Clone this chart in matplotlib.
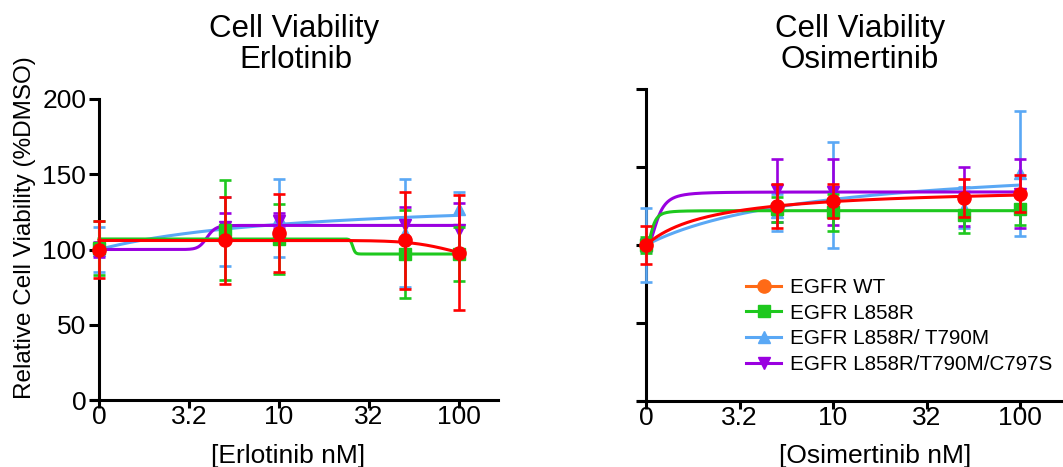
import numpy as np
import matplotlib
matplotlib.use("Agg")
import matplotlib.pyplot as plt
from matplotlib.lines import Line2D

plt.rcParams['font.family'] = ['Liberation Sans', 'DejaVu Sans']

# ---------------- data ----------------
conc_positions = [1, 5, 10, 50, 100]          # "0" plotted at position 1 on the log axis
tick_positions = [1, 10 ** 0.5, 10, 10 ** 1.5, 100]
tick_labels = ['0', '3.2', '10', '32', '100']

series_names = ['EGFR WT', 'EGFR L858R', 'EGFR L858R/ T790M', 'EGFR L858R/T790M/C797S']
series_colors = ['#ff0000', '#1ec81e', '#5aa8f5', '#9a00e0']
legend_colors = ['#ff6a16', '#1ec81e', '#5aa8f5', '#9a00e0']
series_markers = ['o', 's', '^', 'v']
marker_sizes = [9.5, 8, 9, 9]

# Erlotinib
erl_wt_mean = [100, 106, 111, 106, 98]
erl_wt_sd = [19, 29, 26, 32, 38]
erl_l858r_mean = [101, 113, 107, 97, 97]
erl_l858r_sd = [18, 33, 23, 29, 18]
erl_t790m_mean = [100, 112, 121, 111, 127]
erl_t790m_sd = [15, 23, 26, 36, 11]
erl_c797s_mean = [100, 115, 119, 116, 113]
erl_c797s_sd = [5, 9, 5, 12, 18]

# Osimertinib
osi_wt_mean = [100, 125, 128, 130, 133]
osi_wt_sd = [12, 14, 11, 12, 12]
osi_l858r_mean = [100, 123, 121, 119, 123]
osi_l858r_sd = [5, 8, 12, 11, 10]
osi_t790m_mean = [100, 121, 132, 124, 146]
osi_t790m_sd = [24, 12, 34, 13, 40]
osi_c797s_mean = [100, 135, 134, 131, 133]
osi_c797s_sd = [4, 20, 21, 19, 22]

# fitted-curve parameters: start, span, midpoint (log units), slope
erl_fit_start = [106, 107, 100, 100]
erl_fit_span = [-16, -10, 35.5, 16]
erl_fit_mid = [2.0, 1.41, 1.125, 0.6]
erl_fit_slope = [15, 200, 1, 25]

osi_fit_start = [100, 100, 100, 100]
osi_fit_span = [37.7, 22, 56, 34]
osi_fit_mid = [0.355, 0.035, 0.915, 0.063]
osi_fit_slope = [1, 2.5, 1, 2.44]


def fit_curve(t, start, span, mid, slope):
    r = np.power(t / mid, slope)
    return start + span * r / (1.0 + r)


W, H = 1063, 467
fig = plt.figure(figsize=(W / 100, H / 100), dpi=100)


def px_axes(x0, x1, ytop, ybot):
    return fig.add_axes([x0 / W, 1 - ybot / H, (x1 - x0) / W, (ybot - ytop) / H])


ax1 = px_axes(92, 498, 99, 400)
ax2 = px_axes(638, 1063, 89, 401)

panels = [
    (ax1, [erl_wt_mean, erl_l858r_mean, erl_t790m_mean, erl_c797s_mean],
     [erl_wt_sd, erl_l858r_sd, erl_t790m_sd, erl_c797s_sd],
     (erl_fit_start, erl_fit_span, erl_fit_mid, erl_fit_slope),
     (10 ** -0.039, 10 ** 2.217), True),
    (ax2, [osi_wt_mean, osi_l858r_mean, osi_t790m_mean, osi_c797s_mean],
     [osi_wt_sd, osi_l858r_sd, osi_t790m_sd, osi_c797s_sd],
     (osi_fit_start, osi_fit_span, osi_fit_mid, osi_fit_slope),
     (10 ** -0.043, 10 ** 2.23), False),
]

draw_order = [2, 3, 1, 0]
t_grid = np.linspace(0, 2, 600)
x_grid = 10 ** t_grid

for ax, means, sds, fits, xlim, show_ylabels in panels:
    ax.set_xscale('log')
    for z, i in enumerate(draw_order):
        c = series_colors[i]
        ax.errorbar(conc_positions, means[i], yerr=sds[i], fmt='none', ecolor=c,
                    elinewidth=1.9, capsize=4.5, capthick=1.9, zorder=3 + z * 3)
        ax.plot(conc_positions, means[i], linestyle='none', marker=series_markers[i],
                markersize=marker_sizes[i], color=c, zorder=4 + z * 3, clip_on=False)
        ycurve = fit_curve(t_grid, fits[0][i], fits[1][i], fits[2][i], fits[3][i])
        ax.plot(x_grid, ycurve, color=c, lw=2.2, zorder=5 + z * 3)
    ax.set_xlim(*xlim)
    ax.set_ylim(0, 200)
    ax.spines['top'].set_visible(False)
    ax.spines['right'].set_visible(False)
    ax.spines['left'].set_position(('data', 1))
    for s in ('left', 'bottom'):
        ax.spines[s].set_linewidth(2.2)
    ax.set_xticks(tick_positions)
    ax.set_xticklabels(tick_labels)
    ax.xaxis.set_minor_locator(matplotlib.ticker.NullLocator())
    ax.set_yticks([0, 50, 100, 150, 200])
    ax.tick_params(axis='x', direction='out', length=5.8, width=2.2, pad=-2.0,
                   labelsize=19)
    ax.tick_params(axis='y', direction='out', length=7.2, width=2.2, pad=2.0,
                   labelsize=19, labelleft=show_ylabels)
    ax.patch.set_alpha(0)

# titles
title_size = 22.5
fig.text(294 / W, 1 - 37 / H, 'Cell Viability', ha='center', va='baseline', fontsize=title_size)
fig.text(296 / W, 1 - 68 / H, 'Erlotinib', ha='center', va='baseline', fontsize=title_size)
fig.text(860 / W, 1 - 37 / H, 'Cell Viability', ha='center', va='baseline', fontsize=title_size)
fig.text(860 / W, 1 - 68 / H, 'Osimertinib', ha='center', va='baseline', fontsize=title_size)

# axis labels
fig.text(288 / W, 1 - 463 / H, '[Erlotinib nM]', ha='center', va='baseline', fontsize=19)
fig.text(875 / W, 1 - 463 / H, '[Osimertinib nM]', ha='center', va='baseline', fontsize=19)
fig.text(25 / W, 1 - 228 / H, 'Relative Cell Viability (%DMSO)', ha='center', va='center',
         rotation=90, fontsize=17.5)

# legend
handles = [Line2D([0], [0], color=legend_colors[i], lw=2.2, marker=series_markers[i],
                  markersize=marker_sizes[i]) for i in range(4)]
fig.legend(handles, series_names, loc='center left', bbox_to_anchor=(746 / W, 1 - 326 / H),
           frameon=False, fontsize=14.9, handlelength=1.7, handletextpad=0.45,
           labelspacing=0.32, borderpad=0, borderaxespad=0)

fig.savefig('out.png', dpi=100)
